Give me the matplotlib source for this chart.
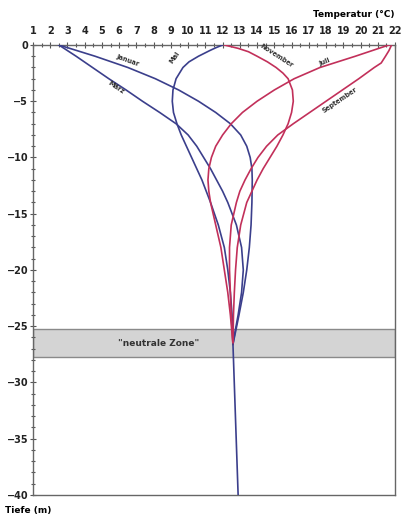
import matplotlib
matplotlib.use("Agg")
import matplotlib.pyplot as plt
import numpy as np

# Temperaturprofile im Boden (Temperatur in °C, Tiefe in m)
januar_d = [0, -1, -2, -3, -4, -5, -6, -7, -8, -9, -10, -11, -12, -14, -16, -18, -20, -22, -24, -25.5, -26.6]
januar_t = [2.5, 4.6, 6.5, 8.1, 9.45, 10.6, 11.6, 12.45, 13.05, 13.4, 13.6, 13.7, 13.72, 13.7, 13.65, 13.55, 13.4, 13.2, 12.95, 12.75, 12.6]

maerz_d = [0, -1, -2, -3, -4, -5, -6, -7, -8, -9, -10, -11, -12, -13, -14, -16, -18, -20, -22, -24, -25.5, -26.6]
maerz_t = [2.5, 3.5, 4.45, 5.4, 6.4, 7.35, 8.35, 9.3, 10.0, 10.5, 10.9, 11.3, 11.65, 12.0, 12.3, 12.8, 13.1, 13.2, 13.1, 12.9, 12.72, 12.6]

mai_d = [0, -0.25, -0.5, -1, -1.5, -2, -3, -4, -5, -6, -7, -8, -9, -10, -11, -12, -14, -16, -18, -20, -22, -24, -26.6]
mai_t = [12.0, 11.6, 11.25, 10.6, 10.05, 9.7, 9.3, 9.12, 9.08, 9.15, 9.35, 9.6, 9.9, 10.2, 10.5, 10.8, 11.3, 11.75, 12.1, 12.3, 12.45, 12.55, 12.6]

juli_d = [0, -1, -2, -3, -4, -5, -6, -7, -8, -9, -10, -11, -12, -13, -14, -16, -18, -20, -22, -24, -26.6]
juli_t = [21.65, 19.7, 17.65, 16.15, 15.0, 14.0, 13.15, 12.5, 12.0, 11.6, 11.35, 11.2, 11.15, 11.2, 11.3, 11.6, 11.9, 12.1, 12.3, 12.45, 12.6]

september_d = [0, -0.5, -1, -1.6, -2, -3, -4, -5, -6, -7, -8, -9, -10, -11, -12, -13, -14, -16, -18, -20, -22, -24, -26.6]
september_t = [21.8, 21.65, 21.45, 21.2, 20.8, 19.9, 18.95, 18.0, 17.05, 16.1, 15.2, 14.55, 14.05, 13.65, 13.3, 13.0, 12.8, 12.5, 12.4, 12.4, 12.45, 12.5, 12.6]

november_d = [0, -0.3, -0.6, -1, -1.5, -2, -2.5, -3, -4, -5, -6, -7, -8, -9, -10, -11, -12, -14, -16, -18, -20, -22, -24, -26.6]
november_t = [12.1, 12.9, 13.5, 14.0, 14.6, 15.1, 15.5, 15.8, 16.05, 16.1, 16.0, 15.8, 15.5, 15.15, 14.75, 14.35, 14.0, 13.4, 13.05, 12.85, 12.75, 12.68, 12.63, 12.6]

# unterhalb der neutralen Zone: ein gemeinsamer Verlauf
tief_t = [12.6, 12.9]
tief_d = [-26.6, -40]

zone = (-25.25, -27.75)

blau = "#3b3f8c"
rot = "#c2305a"

fig = plt.figure(figsize=(4.01, 5.17), dpi=100)
ax = fig.add_axes([0.0823, 0.0426, 0.9027, 0.8704])

ax.axhspan(zone[1], zone[0], facecolor="#d4d4d4", edgecolor="#8a8a8a", lw=1.0, zorder=1)
ax.text(8.3, (zone[0] + zone[1]) / 2, '"neutrale Zone"', ha="center", va="center",
        fontsize=6.5, fontweight="bold", color="#333333", zorder=2)

for t, d, c in [(januar_t, januar_d, blau), (maerz_t, maerz_d, blau), (mai_t, mai_d, blau),
                (juli_t, juli_d, rot), (september_t, september_d, rot), (november_t, november_d, rot)]:
    ax.plot(t, d, color=c, lw=1.2, zorder=3, solid_joinstyle="round")
ax.plot(tief_t, tief_d, color=blau, lw=1.2, zorder=3)

# Monatsnamen entlang der Kurven
lab = dict(fontsize=4.8, fontweight="bold", color="#333333", ha="center", va="center", zorder=4)
ax.text(6.5, -1.4, "Januar", rotation=-20, **lab)
ax.text(5.8, -3.8, "März", rotation=-34, **lab)
ax.text(9.2, -1.1, "Mai", rotation=55, **lab)
ax.text(15.1, -1.0, "November", rotation=-33, **lab)
ax.text(17.9, -1.55, "Juli", rotation=22, **lab)
ax.text(18.8, -4.9, "September", rotation=34, **lab)

ax.set_xlim(1, 22)
ax.set_ylim(-40, 0)
ax.xaxis.tick_top()
ax.set_xticks(range(1, 23))
ax.set_xticks(np.arange(1, 22.01, 0.5), minor=True)
ax.set_yticks(range(0, -41, -5))
ax.set_yticks(range(0, -41, -1), minor=True)
ax.tick_params(which="both", direction="inout", color="#555555", width=0.8)
ax.tick_params(which="major", length=5, labelsize=7)
ax.tick_params(which="minor", length=3)
ax.tick_params(axis="x", pad=4)
ax.tick_params(axis="y", pad=1)
for lbl in ax.get_xticklabels() + ax.get_yticklabels():
    lbl.set_fontweight("bold")
    lbl.set_color("#222222")
for s in ax.spines.values():
    s.set_color("#666666")
    s.set_linewidth(1.0)

fig.text(0.985, 0.972, "Temperatur (°C)", ha="right", va="center", fontsize=6.5, fontweight="bold")
fig.text(0.012, 0.013, "Tiefe (m)", ha="left", va="center", fontsize=6.5, fontweight="bold")

fig.savefig("out.png", dpi=100)
